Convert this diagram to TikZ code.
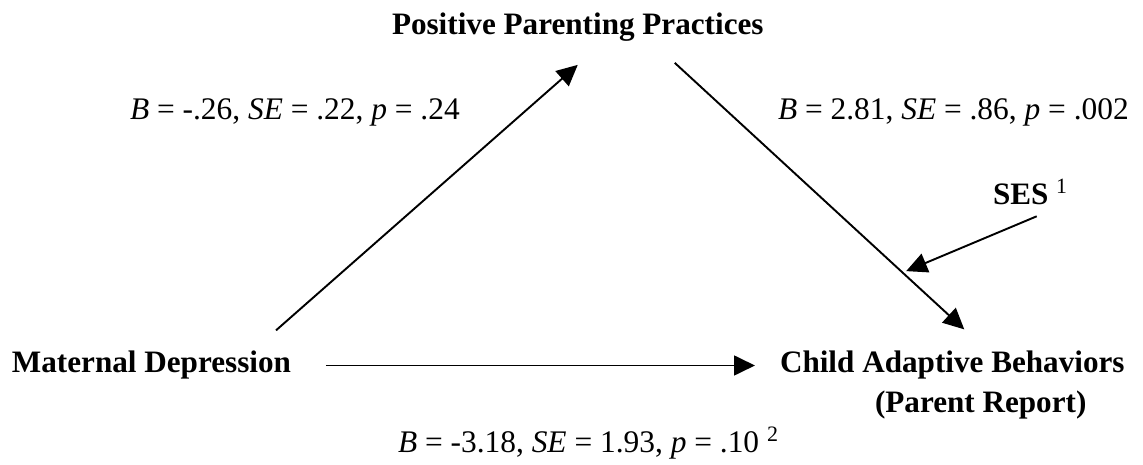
\documentclass[tikz,border=0pt]{standalone}
\usepackage{fontspec}
\setmainfont{Liberation Serif}
\usetikzlibrary{arrows.meta,calc}

\begin{document}
\begin{tikzpicture}[x=0.3915pt, y=-0.3915pt,
    font=\fontsize{12.3}{14.8}\selectfont,
    var/.style={font=\fontsize{12.2}{14.6}\selectfont\bfseries,anchor=base west,inner sep=0pt,outer sep=0pt},
    coef/.style={anchor=base west,inner sep=0pt,outer sep=0pt},
    arr/.style={-{Triangle[length=8.2pt,width=7.8pt]},line width=0.75pt}]
  \useasboundingbox (0,0) rectangle (1143,465);
  \node[var]  (ppp) at (392,35)  {Positive Parenting Practices};
  \node[var]  (md)  at (12,373)  {Maternal Depression};
  \node[var]  (cab) at (780,373) {Child Adaptive Behaviors};
  \node[var]  (rep) at (875,413) {(Parent Report)};
  \node[var]  (ses) at (993,205) {SES \textsuperscript{\normalfont 1}};
  \node[coef] (ca)  at (130,120) {\textit{B} = -.26, \textit{SE} = .22, \textit{p} = .24};
  \node[coef] (cb)  at (778,120) {\textit{B} = 2.81, \textit{SE} = .86, \textit{p} = .002};
  \node[coef] (cc)  at (398,453) {\textit{B} = -3.18, \textit{SE} = 1.93, \textit{p} = .10 \textsuperscript{2}};
  \draw[arr] ([shift={(-15,-21)}]md.north east) -- ([shift={(0,23)}]ppp.south);
  \draw[arr] ([shift={(97,21)}]ppp.south) -- coordinate[pos=0.787] (mod) ([shift={(12,-22)}]cab.north);
  \draw[arr,shorten <=13.7pt,shorten >=9.8pt] (md.east) -- (cab.west);
  \draw[arr,shorten >=1.5pt] ([shift={(6,11)}]ses.south) -- (mod);
\end{tikzpicture}
\end{document}
